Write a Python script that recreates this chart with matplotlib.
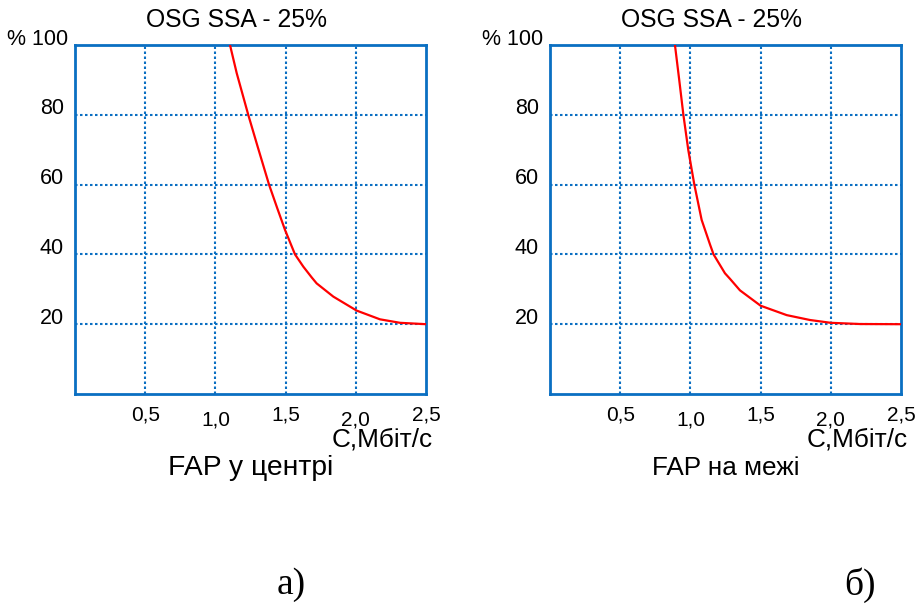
import matplotlib
matplotlib.use("Agg")
import matplotlib.pyplot as plt
from matplotlib.transforms import ScaledTranslation

plt.rcParams['font.family'] = ['Liberation Sans', 'DejaVu Sans']

# data
left_x = [1.104, 1.152, 1.234, 1.300, 1.382, 1.440, 1.496, 1.567, 1.626, 1.686, 1.721, 1.84, 2.006, 2.172, 2.315, 2.50]
left_y = [100, 91.9, 80.0, 71.0, 60.0, 53.3, 47.0, 40.0, 36.5, 33.4, 31.7, 27.9, 23.9, 21.4, 20.4, 20.0]
right_x = [0.890, 0.921, 0.950, 0.985, 1.028, 1.080, 1.140, 1.165, 1.246, 1.282, 1.353, 1.50, 1.686, 1.852, 1.999, 2.208, 2.50]
right_y = [100, 89.8, 80.0, 69.9, 60.0, 49.9, 42.8, 40.0, 34.6, 33.0, 29.7, 25.3, 22.6, 21.2, 20.4, 20.05, 20.0]
x_ticks = [0.5, 1.0, 1.5, 2.0, 2.5]
x_tick_labels = ['0,5', '1,0', '1,5', '2,0', '2,5']
y_ticks = [20, 40, 60, 80, 100]
y_tick_labels = ['20', '40', '60', '80', '% 100']
title = 'OSG SSA - 25%'
xlabel = 'C,Мбіт/с'
captions = ['FAP у центрі', 'FAP на межі']
letters = ['а)', 'б)']

W, H = 921, 606
fig = plt.figure(figsize=(W / 100, H / 100), dpi=100)
blue = '#0a6fc2'

panels = [(75, left_x, left_y), (550, right_x, right_y)]
caption_sizes = [20.3, 18.8]
for i, (lpx, xs, ys) in enumerate(panels):
    ax = fig.add_axes([lpx / W, (H - 394) / H, 351 / W, 349 / H])
    ax.plot(xs, ys, color='#ff0000', lw=1.6, zorder=3, solid_joinstyle='round')
    ax.set_xlim(0, 2.5)
    ax.set_ylim(0, 100)
    ax.set_xticks(x_ticks)
    ax.set_xticklabels(x_tick_labels, fontsize=15)
    ax.set_yticks(y_ticks)
    ax.set_yticklabels(y_tick_labels, fontsize=15.5)
    ax.tick_params(length=0)
    ax.tick_params(axis='y', pad=8)
    for k, t in enumerate(ax.xaxis.get_major_ticks()):
        t.set_pad(8 if k % 2 == 0 else 12)
    ylabs = ax.get_yticklabels()
    for k, lab in enumerate(ylabs):
        dx = 4 / 72 * 0.72 if k == len(ylabs) - 1 else 0
        lab.set_transform(lab.get_transform() + ScaledTranslation(dx, 6 / 72, fig.dpi_scale_trans))
    for sp in ax.spines.values():
        sp.set_color(blue)
        sp.set_linewidth(2)
    for xv in x_ticks[:-1]:
        ax.axvline(xv, color=blue, lw=1.5, ls=(0, (1.2, 1.2)), zorder=1)
    for yv in y_ticks[:-1]:
        ax.axhline(yv, color=blue, lw=1.5, ls=(0, (1.2, 1.2)), zorder=1)
    ax.text(0.46, 1.0 + 25 / 349, title, transform=ax.transAxes, ha='center', va='center', fontsize=17.8)
    ax.text(1.0 + 7 / 351, -46 / 349, xlabel, transform=ax.transAxes, ha='right', va='center', fontsize=18.8)
    ax.text(0.5, -74 / 349, captions[i], transform=ax.transAxes, ha='center', va='center', fontsize=caption_sizes[i])

fig.text(291 / W, 1 - 585 / H, letters[0], ha='center', va='center', fontsize=27, family=['Liberation Serif', 'DejaVu Serif'])
fig.text(860 / W, 1 - 585 / H, letters[1], ha='center', va='center', fontsize=27, family=['Liberation Serif', 'DejaVu Serif'])

fig.savefig('out.png', dpi=100)
